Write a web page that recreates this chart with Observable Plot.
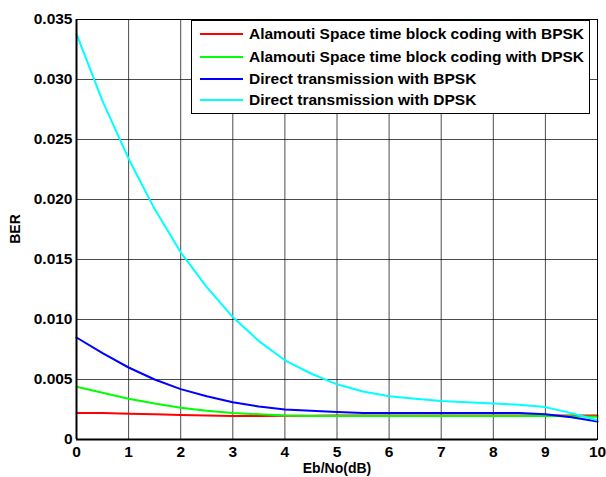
<!DOCTYPE html>
<html>
<head>
<meta charset="utf-8">
<script src="https://cdn.jsdelivr.net/npm/d3@7"></script>
<script src="https://cdn.jsdelivr.net/npm/@observablehq/plot@0.6"></script>
<style>
  html, body { margin: 0; padding: 0; background: #fff; }
  #wrap { position: relative; width: 606px; height: 477px; font-family: "Liberation Sans", Arial, sans-serif; font-weight: bold; }
  #legend { position: absolute; left: 191px; top: 20px; width: 399px; height: 94px; border: 1px solid #000; background: #fff; box-sizing: border-box; }
  .row { position: absolute; left: 0; height: 20px; display: flex; align-items: center; font-size: 15.5px; color: #000; white-space: nowrap; }
  .sw { display: inline-block; width: 43px; height: 2px; margin-left: 8px; margin-right: 6px; }
  #ylab { position: absolute; left: 15px; top: 229px; transform: translate(-50%, -50%) rotate(-90deg); font-size: 14px; }
  #xlab { position: absolute; left: 337px; top: 468px; transform: translate(-50%, -50%); font-size: 14px; white-space: nowrap; line-height: 14px; }
</style>
</head>
<body>
<div id="wrap"></div>
<script>
const ebno = [0,0.5,1,1.5,2,2.5,3,3.5,4,4.5,5,5.5,6,6.5,7,7.5,8,8.5,9,9.5,10];
const stbcBpsk = [0.0022,0.0022,0.00215,0.0021,0.00205,0.0020,0.00196,0.00195,0.00197,0.00198,0.002,0.002,0.002,0.002,0.002,0.002,0.002,0.002,0.002,0.002,0.002];
const stbcDpsk = [0.0044,0.0039,0.0034,0.0030,0.00265,0.0024,0.0022,0.0021,0.0020,0.00195,0.00195,0.00195,0.00195,0.00195,0.00195,0.00195,0.00195,0.00195,0.00195,0.00193,0.0019];
const directBpsk = [0.0085,0.0072,0.0060,0.0050,0.0042,0.0036,0.0031,0.00275,0.0025,0.0024,0.0023,0.0022,0.0022,0.0022,0.0022,0.0022,0.0022,0.0022,0.0021,0.00185,0.0015];
const directDpsk = [0.0338,0.0282,0.0234,0.0192,0.0156,0.0127,0.0102,0.0082,0.0066,0.0055,0.0046,0.0040,0.0036,0.0034,0.0032,0.0031,0.0030,0.0029,0.0027,0.0022,0.0016];
const seriesNames = ["Alamouti Space time block coding with BPSK","Alamouti Space time block coding with DPSK","Direct transmission with BPSK","Direct transmission with DPSK"];
const seriesColors = ["#ff0000","#00ff00","#0000ff","#00ffff"];
const xTicks = [0,1,2,3,4,5,6,7,8,9,10];
const yTicks = [0,0.005,0.010,0.015,0.020,0.025,0.030,0.035];

const allSeries = [stbcBpsk, stbcDpsk, directBpsk, directDpsk];
const data = [];
allSeries.forEach((s, i) => s.forEach((v, j) => data.push({x: ebno[j], y: v, name: seriesNames[i]})));

const fmtY = d => d === 0 ? "0" : d3.format(".3f")(d);

const chart = Plot.plot({
  width: 606,
  height: 477,
  marginLeft: 76,
  marginRight: 9,
  marginTop: 19,
  marginBottom: 38,
  style: { fontFamily: "Liberation Sans, Arial, sans-serif", fontWeight: "bold", fontSize: "15.5px", color: "#000", background: "#fff" },
  x: { domain: [0, 10], label: null },
  y: { domain: [0, 0.035], label: null },
  color: { domain: seriesNames, range: seriesColors },
  marks: [
    Plot.gridX(xTicks, { stroke: "#000", strokeOpacity: 0.7, strokeWidth: 1 }),
    Plot.gridY(yTicks, { stroke: "#000", strokeOpacity: 0.7, strokeWidth: 1 }),
    Plot.axisX(xTicks, { tickSize: 0, tickPadding: 6, fontSize: 15.5, fontWeight: "bold" }),
    Plot.axisY(yTicks, { tickSize: 0, tickPadding: 4, fontSize: 15.5, fontWeight: "bold", tickFormat: fmtY }),
    Plot.line(data, { x: "x", y: "y", z: "name", stroke: "name", strokeWidth: 2 }),
    Plot.frame({ stroke: "#000", strokeWidth: 1 }),
    Plot.ruleX([0], { stroke: "#000", strokeWidth: 2 }),
    Plot.ruleY([0], { stroke: "#000", strokeWidth: 2 })
  ]
});

const wrap = document.getElementById("wrap");
wrap.appendChild(chart);

const legend = document.createElement("div");
legend.id = "legend";
const rowTops = [3, 26, 48, 69];
seriesNames.forEach((n, i) => {
  const r = document.createElement("div");
  r.className = "row";
  r.style.top = rowTops[i] + "px";
  const sw = document.createElement("span");
  sw.className = "sw";
  sw.style.background = seriesColors[i];
  const t = document.createElement("span");
  t.textContent = n;
  r.appendChild(sw); r.appendChild(t);
  legend.appendChild(r);
});
wrap.appendChild(legend);

const yl = document.createElement("div"); yl.id = "ylab"; yl.textContent = "BER"; wrap.appendChild(yl);
const xl = document.createElement("div"); xl.id = "xlab"; xl.textContent = "Eb/No(dB)"; wrap.appendChild(xl);
</script>
</body>
</html>
